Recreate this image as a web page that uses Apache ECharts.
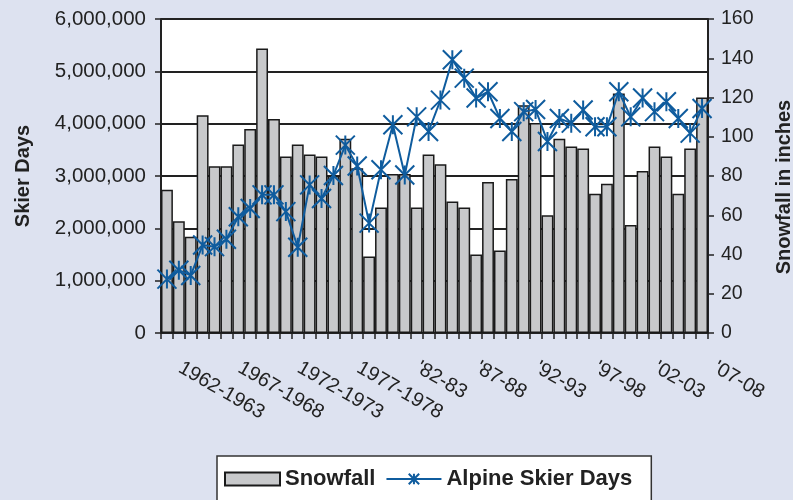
<!DOCTYPE html>
<html>
<head>
<meta charset="utf-8">
<script src="https://cdn.jsdelivr.net/npm/echarts@6/dist/echarts.min.js"></script>
<style>
  html, body { margin: 0; padding: 0; background: #dde2f0; }
  #chart { width: 793px; height: 500px; }
</style>
</head>
<body>
<div id="chart"></div>
<script>
// Seasons 1962-63 through 2007-08
const seasons = ['1962-1963','1963-1964','1964-1965','1965-1966','1966-1967',
  '1967-1968','1968-1969','1969-1970','1970-1971','1971-1972',
  '1972-1973','1973-1974','1974-1975','1975-1976','1976-1977',
  '1977-1978','1978-1979','1979-1980',"'80-81","'81-82",
  "'82-83","'83-84","'84-85","'85-86","'86-87",
  "'87-88","'88-89","'89-90","'90-91","'91-92",
  "'92-93","'93-94","'94-95","'95-96","'96-97",
  "'97-98","'98-99","'99-00","'00-01","'01-02",
  "'02-03","'03-04","'04-05","'05-06","'06-07",
  "'07-08"];

// Snowfall per season, inches
const snowfall = [73, 57, 49, 111, 85, 85, 96, 104, 145, 109,
  90, 96, 91, 90, 80, 99, 84, 39, 64, 81,
  81, 64, 91, 86, 67, 64, 40, 77, 42, 78.5,
  116, 107, 60, 99, 95, 94, 71, 76, 122, 55,
  82.5, 95, 90, 71, 94, 120];

// Alpine skier days per season
const skierDays = [1030000, 1200000, 1100000, 1680000, 1650000, 1790000, 2220000, 2380000, 2640000, 2640000,
  2320000, 1640000, 2830000, 2570000, 3010000, 3590000, 3190000, 2100000, 3120000, 3980000,
  3020000, 4130000, 3850000, 4450000, 5220000, 4870000, 4490000, 4610000, 4100000, 3850000,
  4230000, 4270000, 3660000, 4100000, 4010000, 4260000, 3940000, 3940000, 4610000, 4130000,
  4490000, 4230000, 4420000, 4100000, 3820000, 4290000];

// Axis ranges
const daysMax = 6000000, daysStep = 1000000;
const snowMax = 160, snowStep = 20;

const FONT = "'Liberation Sans', Arial, sans-serif";
const INK = '#222222';
const BLUE = '#0f5c9e';
const STAR = 'path://M0,0L20,20M20,0L0,20M10,0L10,20';

const chart = echarts.init(document.getElementById('chart'), null, { renderer: 'canvas' });

chart.setOption({
  backgroundColor: '#dde2f0',
  animation: false,
  textStyle: { fontFamily: FONT },
  grid: {
    left: 161, right: 85, top: 19, bottom: 167,
    containLabel: false, outerBoundsMode: 'none',
    show: true, backgroundColor: '#ffffff', borderWidth: 0
  },
  legend: {
    left: 217, top: 456,
    padding: [12, 19, 40, 7],
    backgroundColor: '#ffffff',
    borderColor: '#333333', borderWidth: 1.5, borderRadius: 0,
    itemWidth: 55, itemHeight: 13, itemGap: 10,
    textStyle: { fontFamily: FONT, fontSize: 22, fontWeight: 'bold', color: INK },
    data: [
      { name: 'Snowfall', icon: 'rect' },
      { name: 'Alpine Skier Days' }
    ]
  },
  xAxis: {
    type: 'category',
    data: seasons,
    boundaryGap: true,
    axisLine: { lineStyle: { color: INK, width: 2 } },
    axisTick: { show: true, inside: false, length: 6, interval: 0, lineStyle: { color: INK, width: 1.5 } },
    axisLabel: {
      interval: 4, rotate: -30, margin: 26,
      padding: [0, 0, 0, 15],
      fontFamily: FONT, fontSize: 20, color: INK
    },
    splitLine: { show: false }
  },
  yAxis: [
    {
      type: 'value',
      min: 0, max: daysMax, interval: daysStep,
      position: 'left',
      name: 'Skier Days',
      nameLocation: 'middle', nameRotate: 90, nameGap: 128,
      nameMoveOverlap: false,
      nameTextStyle: { fontFamily: FONT, fontSize: 20, fontWeight: 'bold', color: INK },
      axisLine: { show: true, lineStyle: { color: INK, width: 2 } },
      axisTick: { show: true, length: 6, lineStyle: { color: INK, width: 1.5 } },
      axisLabel: {
        margin: 15, fontFamily: FONT, fontSize: 20.5, color: INK,
        formatter: v => v.toLocaleString('en-US')
      },
      splitLine: { show: true, lineStyle: { color: INK, width: 2 } }
    },
    {
      type: 'value',
      min: 0, max: snowMax, interval: snowStep,
      position: 'right',
      name: 'Snowfall in inches',
      nameLocation: 'middle', nameRotate: 90, nameGap: 66,
      nameMoveOverlap: false,
      nameTextStyle: { fontFamily: FONT, fontSize: 20, fontWeight: 'bold', color: INK, padding: [0, 22, 0, 0] },
      axisLine: { show: true, lineStyle: { color: INK, width: 2 } },
      axisTick: { show: true, length: 6, lineStyle: { color: INK, width: 1.5 } },
      axisLabel: { margin: 13, fontFamily: FONT, fontSize: 19.5, color: INK },
      splitLine: { show: false }
    }
  ],
  series: [
    {
      name: 'Snowfall',
      type: 'bar',
      yAxisIndex: 1,
      data: snowfall,
      barCategoryGap: 0,
      itemStyle: { color: '#c8c9cb', borderColor: '#1a1a1a', borderWidth: 1.5 },
      z: 2
    },
    {
      name: 'Alpine Skier Days',
      type: 'line',
      yAxisIndex: 0,
      data: skierDays,
      symbol: STAR,
      symbolSize: 19,
      showAllSymbol: true,
      lineStyle: { color: BLUE, width: 2 },
      itemStyle: { color: 'rgba(0,0,0,0)', borderColor: BLUE, borderWidth: 2 },
      z: 3
    }
  ]
});
</script>
</body>
</html>
